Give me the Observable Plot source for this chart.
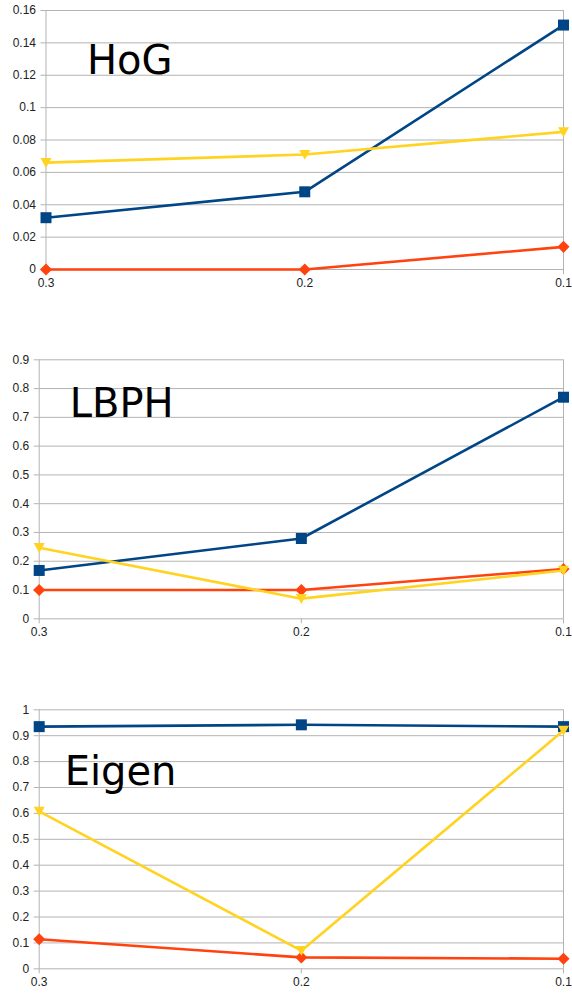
<!DOCTYPE html>
<html>
<head>
<meta charset="utf-8">
<script src="https://cdn.jsdelivr.net/npm/d3@7"></script>
<script src="https://cdn.jsdelivr.net/npm/@observablehq/plot@0.6"></script>
<style>
  html, body { margin: 0; padding: 0; background: #fff; }
  #root { position: relative; width: 572px; height: 994px; overflow: hidden; }
  .panel { position: absolute; left: 0; }
  .panel svg { display: block; overflow: visible; }
</style>
</head>
<body>
<div id="root"></div>
<script>
// Data (x categories are thresholds, read left to right)
const thresholds = [0.3, 0.2, 0.1];
const seriesNames = ["Series 1", "Series 2", "Series 3"];
const seriesColors = ["#004586", "#ff420e", "#ffd320"];

const hogTicks = [0, 0.02, 0.04, 0.06, 0.08, 0.1, 0.12, 0.14, 0.16];
const hogBlue = [0.032, 0.048, 0.151];
const hogRed = [0.0, 0.0, 0.014];
const hogYellow = [0.066, 0.071, 0.085];

const lbphTicks = [0, 0.1, 0.2, 0.3, 0.4, 0.5, 0.6, 0.7, 0.8, 0.9];
const lbphBlue = [0.168, 0.279, 0.77];
const lbphRed = [0.1, 0.1, 0.173];
const lbphYellow = [0.247, 0.07, 0.168];

const eigenTicks = [0, 0.1, 0.2, 0.3, 0.4, 0.5, 0.6, 0.7, 0.8, 0.9, 1];
const eigenBlue = [0.935, 0.942, 0.935];
const eigenRed = [0.114, 0.044, 0.039];
const eigenYellow = [0.608, 0.07, 0.92];

// custom symbols
const squareSym = {draw(c, size) { const r = Math.sqrt(size / Math.PI); c.rect(-r, -r, 2 * r, 2 * r); }};
const diamondSym = {draw(c, size) { const r = Math.sqrt(size / Math.PI) * 1.1; c.moveTo(0, -r); c.lineTo(r, 0); c.lineTo(0, r); c.lineTo(-r, 0); c.closePath(); }};
const triDownSym = {draw(c, size) { const r = Math.sqrt(size / Math.PI); c.moveTo(-r, -r * 0.85); c.lineTo(r, -r * 0.85); c.lineTo(0, r * 0.95); c.closePath(); }};
const symbols = [squareSym, diamondSym, triDownSym];

const fmt = d => String(+d.toFixed(2));

function panel({top, height, mt, mb, ml, ticks, values, title, tdx, tdy}) {
  const marks = [
    Plot.gridY(ticks, {stroke: "#b3b3b3", strokeOpacity: 1, strokeWidth: 1}),
    Plot.ruleX([thresholds[0], thresholds[2]], {stroke: "#b3b3b3", strokeWidth: 1}),
    Plot.axisY(ticks, {tickSize: 5, tickPadding: 5, tickFormat: fmt, stroke: "#b3b3b3", fill: "#222", label: null}),
    Plot.axisX(thresholds, {tickSize: 5, tickPadding: 4, tickFormat: fmt, stroke: "#b3b3b3", fill: "#222", label: null})
  ];
  values.forEach((vals, i) => {
    const rows = thresholds.map((t, j) => ({t, v: vals[j], s: seriesNames[i]}));
    marks.push(Plot.line(rows, {x: "t", y: "v", stroke: seriesColors[i], strokeWidth: 2.6}));
    marks.push(Plot.dot(rows, {x: "t", y: "v", r: 5.5, symbol: symbols[i], fill: seriesColors[i], stroke: "none"}));
  });
  marks.push(Plot.text([title], {frameAnchor: "top-left", dx: tdx, dy: tdy, text: d => d, fontSize: 40, fontFamily: "DejaVu Sans", fill: "#000", textAnchor: "start", lineAnchor: "bottom"}));
  const chart = Plot.plot({
    width: 572, height,
    marginTop: mt, marginBottom: mb, marginLeft: ml, marginRight: 9,
    style: {fontFamily: "Liberation Sans, Arial, sans-serif", fontSize: "12px", background: "transparent", overflow: "visible"},
    x: {type: "linear", domain: [0.3, 0.1]},
    y: {type: "linear", domain: [0, ticks[ticks.length - 1]]},
    marks
  });
  const div = document.createElement("div");
  div.className = "panel";
  div.style.top = top + "px";
  div.appendChild(chart);
  document.getElementById("root").appendChild(div);
}

panel({top: 0, height: 300, mt: 10, mb: 31, ml: 45.5, ticks: hogTicks, values: [hogBlue, hogRed, hogYellow], title: "HoG", tdx: 41, tdy: 63});
panel({top: 349, height: 300, mt: 10.3, mb: 30.7, ml: 38.7, ticks: lbphTicks, values: [lbphBlue, lbphRed, lbphYellow], title: "LBPH", tdx: 30.5, tdy: 57.5});
panel({top: 699, height: 295, mt: 10.3, mb: 25.7, ml: 38.7, ticks: eigenTicks, values: [eigenBlue, eigenRed, eigenYellow], title: "Eigen", tdx: 25.5, tdy: 75.5});
</script>
</body>
</html>
